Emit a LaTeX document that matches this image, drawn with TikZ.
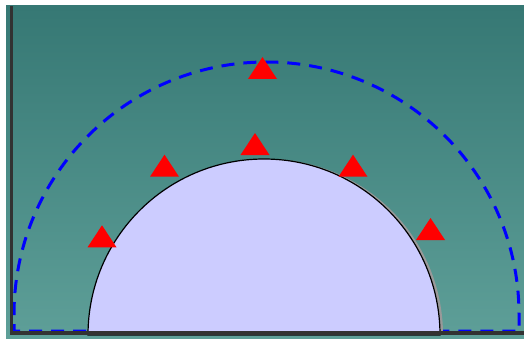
\documentclass[tikz,border=0pt]{standalone}
\definecolor{bgtop}{RGB}{54,120,116}
\definecolor{bgbot}{RGB}{94,159,152}
\definecolor{lav}{RGB}{204,204,255}
\definecolor{edge}{RGB}{50,50,50}
\tikzset{
  dashring/.style={draw=blue, line width=3pt, dash pattern=on 13pt off 9pt},
  dome/.style={fill=lav, draw=black, line width=1.2pt},
  domeshadow/.style={fill=gray!80},
  frameline/.style={draw=edge, line width=3.5pt},
  marker/.style={fill=red}
}
\begin{document}
\begin{tikzpicture}[x=1pt,y=1pt]
\useasboundingbox (0,0) rectangle (524,338);
\shade[top color=bgtop,bottom color=bgbot] (6,0) rectangle (524,332);
% dashed outer ring
\draw[dashring] (86,7) -- (14,7) -- (14,23.5) arc[start angle=180,end angle=0,radius=252.5] -- (519,7) -- (442,7);
% dome with shadow
\fill[domeshadow] (91,3) arc[start angle=180,end angle=0,radius=176] -- cycle;
\filldraw[dome] (88,3) arc[start angle=180,end angle=0,radius=176] -- cycle;
% markers
\foreach \x/\y in {262.5/259, 255/183, 164.5/161.3, 102/90.7, 353/161.3, 430.5/98}
  \fill[marker] (\x-14.5,\y) -- (\x,\y+22) -- (\x+14.5,\y) -- cycle;
% frame lines
\draw[frameline] (11.5,332) -- (11.5,3);
\draw[frameline] (10,5) -- (524,5);
\end{tikzpicture}
\end{document}
